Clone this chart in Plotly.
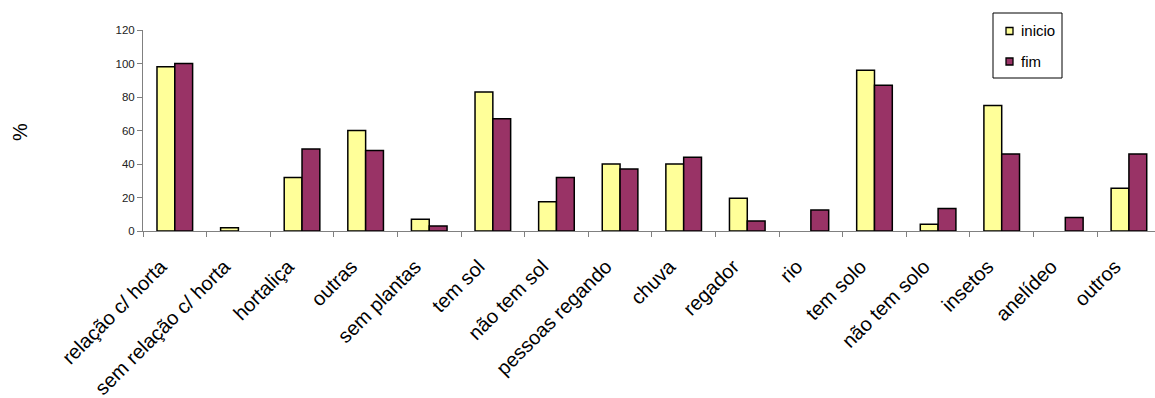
import plotly.graph_objects as go

categories = ["relação c/ horta", "sem relação c/ horta", "hortaliça", "outras", "sem plantas",
              "tem sol", "não tem sol", "pessoas regando", "chuva", "regador", "rio",
              "tem solo", "não tem solo", "insetos", "anelídeo", "outros"]
inicio = [98, 2, 32, 60, 7, 83, 17.5, 40, 40, 19.5, 0, 96, 4, 75, 0, 25.5]
fim = [100, 0, 49, 48, 3, 67, 32, 37, 44, 6, 12.5, 87, 13.5, 46, 8, 46]
y_ticks = [0, 20, 40, 60, 80, 100, 120]
series_names = ["inicio", "fim"]
series_colors = ["#FFFF99", "#993366"]


def outline(vals):
    return [0 if v == 0 else 1.5 for v in vals]


fig = go.Figure()
for name, vals, col in zip(series_names, [inicio, fim], series_colors):
    fig.add_trace(go.Bar(name=name, x=categories, y=vals, showlegend=False,
                         marker=dict(color=col, line=dict(color="#000000", width=outline(vals)))))

# legend drawn as a box (pixel positions converted to paper coords)
L, T, W, H = 143, 30, 1012, 201
def px(x):
    return (x - L) / W
def py(y):
    return (T + H - y) / H

shapes = [dict(type="rect", xref="paper", yref="paper", x0=px(993), x1=px(1062), y0=py(13), y1=py(78),
               line=dict(color="#000000", width=1), fillcolor="white", layer="above")]
annotations = []
for i, (name, col) in enumerate(zip(series_names, series_colors)):
    yc = 31 + i * 30.5
    shapes.append(dict(type="rect", xref="paper", yref="paper", x0=px(1006), x1=px(1013),
                       y0=py(yc - 3.5), y1=py(yc + 3.5), fillcolor=col,
                       line=dict(color="#000000", width=1.3), layer="above"))
    annotations.append(dict(text=name, xref="paper", yref="paper", x=px(1019), y=py(yc),
                            xanchor="left", yanchor="middle", showarrow=False,
                            font=dict(size=15, color="#000000")))

annotations.append(dict(text="%", xref="paper", yref="paper", x=px(19.5), y=py(132.5),
                        xanchor="center", yanchor="middle",
                        textangle=-90, showarrow=False, font=dict(size=20, color="#000000")))

fig.update_layout(
    width=1155, height=398,
    margin=dict(l=143, r=0, t=30, b=167),
    plot_bgcolor="white", paper_bgcolor="white",
    barmode="group", bargap=0.44, bargroupgap=0,
    font=dict(family="Liberation Sans, Arial, sans-serif", color="#000000"),
    showlegend=False,
    xaxis=dict(type="category", range=[-0.5, 15.41], tickangle=-45,
               tickfont=dict(size=20, color="#000000"), ticklabelstandoff=15,
               ticklabelshift=-14,
               showline=True, linecolor="#808080", linewidth=1,
               ticks="outside", tickson="boundaries", ticklen=5, tickcolor="#808080",
               showgrid=False, zeroline=False),
    yaxis=dict(range=[0, 120], tickvals=y_ticks, tickfont=dict(size=11.5, color="#222222"),
               showline=True, linecolor="#808080", linewidth=1, ticks="outside", ticklen=5,
               tickcolor="#808080", showgrid=False, zeroline=False),
    shapes=shapes,
    annotations=annotations,
)

fig.write_html("out.html")
